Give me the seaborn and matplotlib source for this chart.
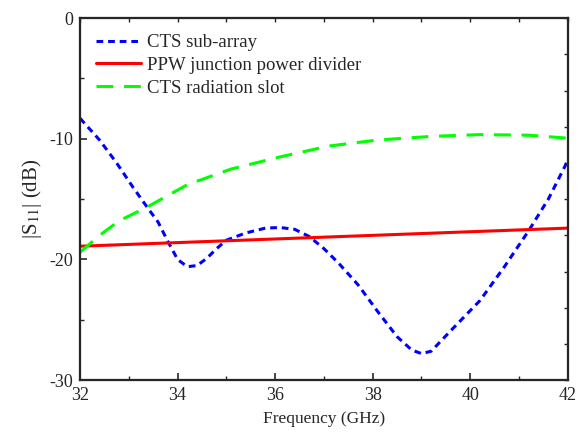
import numpy as np
import pandas as pd
import matplotlib
matplotlib.use("Agg")
import matplotlib.pyplot as plt
import seaborn as sns
from matplotlib.ticker import MultipleLocator

# --- Data ---
freq_sub = [32.0, 32.4, 32.75, 33.1, 33.4, 33.6, 33.8, 34.0, 34.2, 34.4, 34.6, 34.8,
            35.0, 35.4, 35.8, 36.1, 36.4, 36.7, 37.0, 37.3, 37.7, 38.1, 38.5, 38.8,
            39.0, 39.2, 39.6, 40.2, 40.7, 41.2, 41.6, 42.0]
s11_sub = [-8.3, -10.1, -12.0, -14.1, -15.8, -16.9, -18.5, -20.0, -20.6, -20.5, -19.9, -19.1,
           -18.4, -17.8, -17.4, -17.35, -17.5, -18.1, -19.1, -20.3, -22.1, -24.3, -26.4, -27.5,
           -27.8, -27.6, -25.9, -23.4, -20.6, -17.6, -15.0, -11.8]

freq_ppw = [32.0, 34.0, 36.0, 38.0, 40.0, 42.0]
s11_ppw = [-18.9, -18.6, -18.3, -18.0, -17.7, -17.4]

freq_slot = [32.0, 32.4, 32.8, 33.4, 34.2, 35.1, 36.1, 37.1, 38.1, 39.2, 40.2, 41.2, 42.0]
s11_slot = [-19.4, -18.0, -16.8, -15.6, -13.8, -12.5, -11.5, -10.6, -10.1, -9.8, -9.65, -9.7, -9.95]

labels = ["CTS sub-array", "PPW junction power divider", "CTS radiation slot"]

# --- Style ---
sns.set_style("ticks")
plt.rcParams['font.family'] = ['Liberation Serif', 'DejaVu Serif']
plt.rcParams['mathtext.fontset'] = 'stix'
plt.rcParams['axes.unicode_minus'] = False
plt.rcParams['font.size'] = 12

fig = plt.figure(figsize=(5.8, 4.32), dpi=100)
ax = fig.add_axes([0.138, 0.120, 0.841, 0.838])

sns.lineplot(x=freq_sub, y=s11_sub, ax=ax, color='#0000FF', lw=2.2, label=labels[0])
ax.lines[-1].set_dashes([2.2, 1.6])
sns.lineplot(x=freq_ppw, y=s11_ppw, ax=ax, color='#FF0000', lw=2.2, label=labels[1])
sns.lineplot(x=freq_slot, y=s11_slot, ax=ax, color='#00FF00', lw=2.2, label=labels[2])
ax.lines[-1].set_dashes([5.5, 3.5])

ax.set_xlim(32, 42)
ax.set_ylim(-30, 0)
ax.xaxis.set_major_locator(MultipleLocator(2))
ax.xaxis.set_minor_locator(MultipleLocator(1))
ax.yaxis.set_major_locator(MultipleLocator(10))
ax.yaxis.set_minor_locator(MultipleLocator(5))
ax.tick_params(which='major', direction='in', length=5, width=1.2, labelsize=13, pad=5)
ax.tick_params(which='minor', direction='in', length=3, width=1.0)
ax.set_xlabel('Frequency (GHz)', fontsize=12.5, labelpad=5)
ax.set_ylabel('|S$_{11}$| (dB)', fontsize=15, labelpad=4)

for sp in ax.spines.values():
    sp.set_visible(True)
    sp.set_linewidth(1.5)

# opposite axes carry only small ticks
axr = ax.twinx()
axr.set_ylim(-30, 0)
axr.yaxis.set_major_locator(MultipleLocator(3))
axr.tick_params(axis='y', direction='in', length=3, width=1.0, labelright=False)
axt = ax.twiny()
axt.set_xlim(32, 42)
axt.xaxis.set_major_locator(MultipleLocator(1))
axt.tick_params(axis='x', direction='in', length=3, width=1.0, labeltop=False)
for a in (axr, axt):
    for sp in a.spines.values():
        sp.set_linewidth(1.5)

leg = ax.legend(loc='upper left', frameon=False, fontsize=13.5, handlelength=2.4,
                handletextpad=0.3, labelspacing=0.3, borderaxespad=0.45,
                bbox_to_anchor=(0.0, 1.0))

fig.savefig('out.png', dpi=100)
